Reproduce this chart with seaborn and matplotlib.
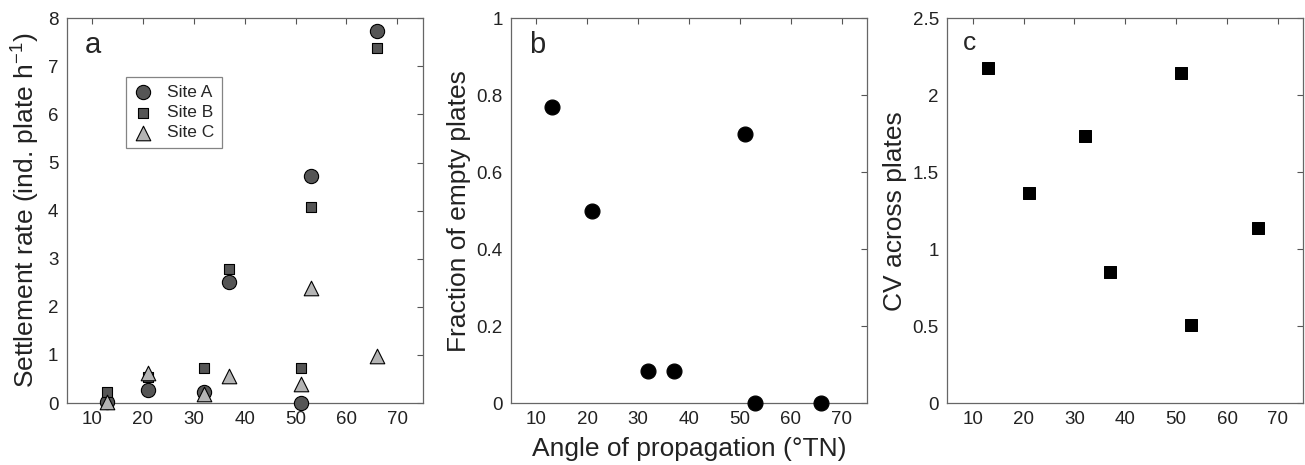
import numpy as np
import pandas as pd
import matplotlib
matplotlib.use("Agg")
import matplotlib.pyplot as plt
from matplotlib.ticker import FuncFormatter
import seaborn as sns

# ---- data ----
angle = [13, 21, 32, 37, 51, 53, 66]
site_a = [0.02, 0.26, 0.22, 2.52, 0.0, 4.73, 7.74]
site_b = [0.22, 0.55, 0.73, 2.78, 0.72, 4.07, 7.38]
site_c = [0.03, 0.62, 0.19, 0.56, 0.39, 2.40, 0.98]
frac_empty = [0.77, 0.50, 0.083, 0.083, 0.70, 0.0, 0.0]
cv_plates = [2.18, 1.365, 1.735, 0.85, 2.147, 0.507, 1.137]
site_names = ["Site A", "Site B", "Site C"]

sns.set_theme(style="white")
plt.rcParams['font.family'] = ['Liberation Sans', 'DejaVu Sans']
plt.rcParams['mathtext.fontset'] = 'custom'
plt.rcParams['mathtext.rm'] = 'Liberation Sans'
plt.rcParams['mathtext.it'] = 'Liberation Sans'

fig = plt.figure(figsize=(13.05, 4.65), dpi=100)
W, H = 1305, 465
def pos(l, r, t, b):
    return [l / W, (H - b) / H, (r - l) / W, (b - t) / H]

ax_a = fig.add_axes(pos(66.7, 422.7, 18.3, 403))
ax_b = fig.add_axes(pos(511, 867.3, 18.3, 403))
ax_c = fig.add_axes(pos(947.3, 1303.3, 18.3, 403))

fmt = FuncFormatter(lambda v, p: f"{v:g}")
for ax in (ax_a, ax_b, ax_c):
    ax.set_xlim(5, 75)
    ax.set_xticks([10, 20, 30, 40, 50, 60, 70])
    ax.tick_params(direction='in', top=True, right=True, length=4, width=0.8,
                   color='#555555', labelsize=13.5, labelcolor='#222222', pad=6)
    for s in ax.spines.values():
        s.set_color('#666666')
        s.set_linewidth(0.9)
    ax.yaxis.set_major_formatter(fmt)

# panel a
series = [(site_names[0], site_a, "o", "#555555", 105),
          (site_names[1], site_b, "s", "#555555", 62),
          (site_names[2], site_c, "^", "#b4b4b4", 110)]
for name, vals, mk, col, sz in series:
    sns.scatterplot(x=angle, y=vals, marker=mk, color=col, s=sz,
                    edgecolor="black", linewidth=0.8, ax=ax_a, zorder=3,
                    label=name, clip_on=False)
ax_a.set_ylim(0, 8)
ax_a.set_yticks(range(0, 9))
ax_a.set_xlabel("")
ax_a.set_ylabel("Settlement rate (ind. plate h$^{-1}$)", fontsize=19, color='#222222')
leg = ax_a.legend(loc='upper left', bbox_to_anchor=(0.167, 0.848), fontsize=12.5,
                  frameon=True, fancybox=False, edgecolor='#666666',
                  handlelength=1.0, handletextpad=0.9, borderpad=0.45,
                  labelspacing=0.3, borderaxespad=0.0)
leg.get_frame().set_linewidth(0.9)
ax_a.text(0.05, 0.93, "a", transform=ax_a.transAxes, fontsize=21, va='center', ha='left')

# panel b
sns.scatterplot(x=angle, y=frac_empty, color="black", marker="o", s=115,
                edgecolor="black", ax=ax_b, zorder=3, clip_on=False)
ax_b.set_ylim(0, 1)
ax_b.set_yticks([0, 0.2, 0.4, 0.6, 0.8, 1])
ax_b.set_ylabel("Fraction of empty plates", fontsize=19, color='#222222')
ax_b.set_xlabel("Angle of propagation (°TN)", fontsize=19, color='#222222', labelpad=6)
ax_b.text(0.05, 0.93, "b", transform=ax_b.transAxes, fontsize=21, va='center', ha='left')

# panel c
sns.scatterplot(x=angle, y=cv_plates, color="black", marker="s", s=80,
                edgecolor="black", ax=ax_c, zorder=3)
ax_c.set_ylim(0, 2.5)
ax_c.set_yticks([0, 0.5, 1, 1.5, 2, 2.5])
ax_c.set_ylabel("CV across plates", fontsize=19, color='#222222')
ax_c.set_xlabel("")
ax_c.text(0.045, 0.935, "c", transform=ax_c.transAxes, fontsize=19, va='center', ha='left')

fig.savefig("out.png", dpi=100)
